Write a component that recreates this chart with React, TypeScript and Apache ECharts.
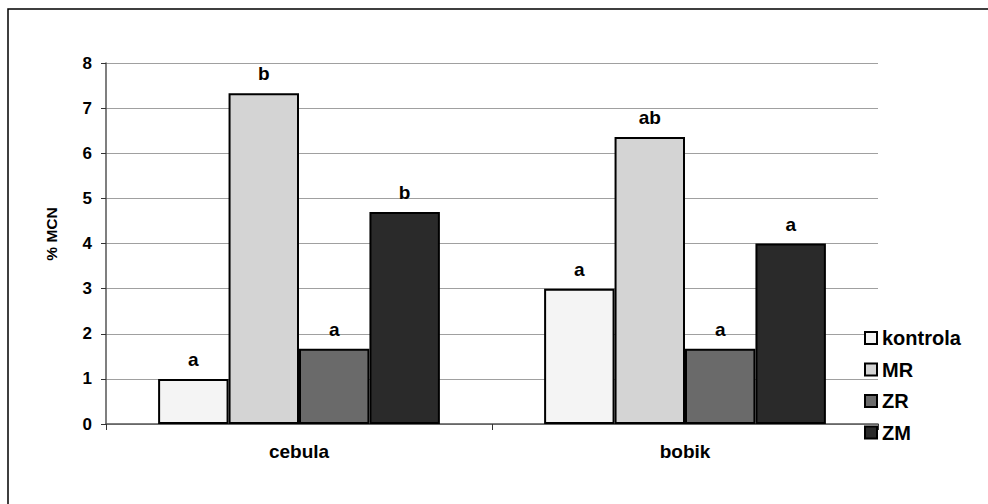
import React, { useEffect, useRef } from "react";
import * as echarts from "echarts";

const categories = ["cebula", "bobik"];
const seriesNames = ["kontrola", "MR", "ZR", "ZM"];
const kontrola = [1.0, 3.0];
const MR = [7.33, 6.36];
const ZR = [1.67, 1.67];
const ZM = [4.7, 4.0];
const letters = [
  ["a", "a"],
  ["b", "ab"],
  ["a", "a"],
  ["b", "a"],
];
const colors = ["#f4f4f4", "#d4d4d4", "#6a6a6a", "#2a2a2a"];
const yTicks = [0, 1, 2, 3, 4, 5, 6, 7, 8];
const yAxisTitle = "% MCN";

export default function App() {
  const ref = useRef<HTMLDivElement>(null);
  useEffect(() => {
    const chart = echarts.init(ref.current!, null, { renderer: "svg" });
    const values = [kontrola, MR, ZR, ZM];
    const font = "Liberation Sans, Arial, sans-serif";
    chart.setOption({
      animation: false,
      textStyle: { fontFamily: font },
      graphic: [
        {
          type: "rect",
          shape: { x: 8, y: 9, width: 1100, height: 700 },
          style: { fill: "none", stroke: "#000", lineWidth: 1.5 },
          silent: true,
        },
        {
          type: "text",
          x: 51,
          y: 234,
          rotation: Math.PI / 2,
          style: {
            text: yAxisTitle,
            fontSize: 15.5,
            fontWeight: "bold",
            fontFamily: font,
            fill: "#000",
            align: "center",
            verticalAlign: "middle",
          },
          silent: true,
        },
      ],
      grid: { left: 106, right: 110, top: 63, bottom: 80 },
      legend: {
        orient: "vertical",
        left: 864,
        top: 328,
        itemWidth: 12,
        itemHeight: 12,
        itemGap: 11.5,
        icon: "rect",
        padding: 0,
        data: seriesNames,
        textStyle: { fontSize: 20, lineHeight: 19, fontWeight: "bold", color: "#000", fontFamily: font },
      },
      xAxis: {
        type: "category",
        data: categories,
        axisLine: { lineStyle: { color: "#555", width: 1.5 } },
        axisTick: { show: true, alignWithLabel: false, length: 6, lineStyle: { color: "#333" } },
        axisLabel: { fontSize: 19, fontWeight: "bold", color: "#000", margin: 18, fontFamily: font },
      },
      yAxis: {
        type: "value",
        min: 0,
        max: 8,
        interval: 1,
        axisLine: { show: true, lineStyle: { color: "#555", width: 1.5 } },
        axisTick: { show: true, length: 5, lineStyle: { color: "#333" } },
        axisLabel: {
          fontSize: 17,
          fontWeight: "bold",
          color: "#000",
          margin: 14,
          fontFamily: font,
          formatter: (v: number) => (yTicks.includes(v) ? String(v) : ""),
        },
        splitLine: { lineStyle: { color: "#a0a0a0", width: 1 } },
      },
      series: seriesNames.map((name, i) => ({
        name,
        type: "bar",
        data: values[i],
        barGap: "0%",
        barCategoryGap: "27%",
        itemStyle: { color: colors[i], borderColor: "#000", borderWidth: 2 },
        label: {
          show: true,
          position: "top",
          distance: 10,
          fontSize: 19,
          fontWeight: "bold",
          color: "#000",
          fontFamily: font,
          formatter: (p: any) => letters[i][p.dataIndex],
        },
      })),
    });
    return () => chart.dispose();
  }, []);
  return <div ref={ref} style={{ width: 988, height: 504, position: "absolute", left: 0, top: 0 }} />;
}
